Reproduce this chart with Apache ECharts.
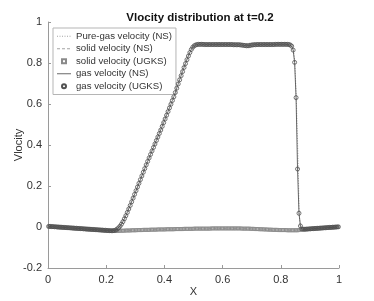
<!DOCTYPE html>
<html>
<head>
<meta charset="utf-8">
<script src="https://cdn.jsdelivr.net/npm/echarts@6/dist/echarts.min.js"></script>
<style>html,body{margin:0;padding:0;background:#fff;}#c{width:374px;height:301px;}</style>
</head>
<body>
<div id="c"></div>
<script>
const titleText = 'Vlocity distribution at t=0.2';
const seriesNames = ['Pure-gas velocity (NS)', 'solid velocity (NS)', 'solid velocity (UGKS)', 'gas velocity (NS)', 'gas velocity (UGKS)'];
const xTicks = [0, 0.2, 0.4, 0.6, 0.8, 1];
const yTicks = [-0.2, 0, 0.2, 0.4, 0.6, 0.8, 1];

// cell centres
const cellX = [
0.0025,0.0075,0.0125,0.0175,0.0225,0.0275,0.0325,0.0375,0.0425,0.0475,
0.0525,0.0575,0.0625,0.0675,0.0725,0.0775,0.0825,0.0875,0.0925,0.0975,
0.1025,0.1075,0.1125,0.1175,0.1225,0.1275,0.1325,0.1375,0.1425,0.1475,
0.1525,0.1575,0.1625,0.1675,0.1725,0.1775,0.1825,0.1875,0.1925,0.1975,
0.2025,0.2075,0.2125,0.2175,0.2225,0.2275,0.2325,0.2375,0.2425,0.2475,
0.2525,0.2575,0.2625,0.2675,0.2725,0.2775,0.2825,0.2875,0.2925,0.2975,
0.3025,0.3075,0.3125,0.3175,0.3225,0.3275,0.3325,0.3375,0.3425,0.3475,
0.3525,0.3575,0.3625,0.3675,0.3725,0.3775,0.3825,0.3875,0.3925,0.3975,
0.4025,0.4075,0.4125,0.4175,0.4225,0.4275,0.4325,0.4375,0.4425,0.4475,
0.4525,0.4575,0.4625,0.4675,0.4725,0.4775,0.4825,0.4875,0.4925,0.4975,
0.5025,0.5075,0.5125,0.5175,0.5225,0.5275,0.5325,0.5375,0.5425,0.5475,
0.5525,0.5575,0.5625,0.5675,0.5725,0.5775,0.5825,0.5875,0.5925,0.5975,
0.6025,0.6075,0.6125,0.6175,0.6225,0.6275,0.6325,0.6375,0.6425,0.6475,
0.6525,0.6575,0.6625,0.6675,0.6725,0.6775,0.6825,0.6875,0.6925,0.6975,
0.7025,0.7075,0.7125,0.7175,0.7225,0.7275,0.7325,0.7375,0.7425,0.7475,
0.7525,0.7575,0.7625,0.7675,0.7725,0.7775,0.7825,0.7875,0.7925,0.7975,
0.8025,0.8075,0.8125,0.8175,0.8225,0.8275,0.8325,0.8375,0.8425,0.8475,
0.8525,0.8575,0.8625,0.8675,0.8725,0.8775,0.8825,0.8875,0.8925,0.8975,
0.9025,0.9075,0.9125,0.9175,0.9225,0.9275,0.9325,0.9375,0.9425,0.9475,
0.9525,0.9575,0.9625,0.9675,0.9725,0.9775,0.9825,0.9875,0.9925,0.9975
];

const gasVel = [
0.003,0.003,0.002,0.002,0.001,0.001,0.000,0.000,-0.001,-0.001,
-0.002,-0.002,-0.003,-0.003,-0.004,-0.004,-0.005,-0.005,-0.006,-0.006,
-0.007,-0.007,-0.008,-0.008,-0.009,-0.009,-0.010,-0.010,-0.011,-0.011,
-0.012,-0.012,-0.013,-0.013,-0.014,-0.014,-0.015,-0.015,-0.016,-0.016,
-0.017,-0.017,-0.018,-0.018,-0.018,-0.017,-0.015,-0.010,-0.004,0.004,
0.014,0.026,0.040,0.055,0.071,0.088,0.105,0.123,0.141,0.159,
0.177,0.195,0.213,0.231,0.249,0.267,0.285,0.303,0.320,0.337,
0.354,0.371,0.388,0.405,0.422,0.439,0.456,0.473,0.491,0.509,
0.527,0.545,0.563,0.581,0.599,0.617,0.635,0.656,0.677,0.698,
0.718,0.738,0.758,0.778,0.797,0.816,0.834,0.851,0.866,0.877,
0.884,0.888,0.890,0.891,0.891,0.891,0.891,0.890,0.890,0.890,
0.890,0.890,0.890,0.890,0.890,0.890,0.890,0.890,0.890,0.890,
0.890,0.890,0.890,0.890,0.890,0.890,0.890,0.889,0.889,0.889,
0.889,0.889,0.888,0.887,0.886,0.885,0.884,0.884,0.885,0.887,
0.888,0.889,0.889,0.890,0.890,0.890,0.890,0.890,0.890,0.890,
0.890,0.890,0.890,0.890,0.890,0.890,0.891,0.891,0.891,0.891,
0.891,0.891,0.891,0.891,0.891,0.890,0.888,0.882,0.863,0.803,
0.631,0.283,0.067,0.005,-0.010,-0.011,-0.011,-0.010,-0.010,-0.009,
-0.009,-0.008,-0.008,-0.007,-0.007,-0.006,-0.006,-0.005,-0.005,-0.004,
-0.004,-0.003,-0.003,-0.002,-0.002,-0.001,-0.001,0.000,0.000,0.001
];

const solidVel = [
0.002,0.002,0.001,0.001,0.000,0.000,-0.001,-0.001,-0.002,-0.002,
-0.003,-0.003,-0.004,-0.004,-0.005,-0.005,-0.006,-0.006,-0.007,-0.007,
-0.008,-0.008,-0.009,-0.009,-0.010,-0.010,-0.011,-0.011,-0.012,-0.012,
-0.013,-0.013,-0.014,-0.014,-0.015,-0.015,-0.016,-0.016,-0.017,-0.017,
-0.018,-0.018,-0.019,-0.019,-0.019,-0.019,-0.019,-0.019,-0.019,-0.018,
-0.018,-0.018,-0.018,-0.017,-0.017,-0.017,-0.017,-0.016,-0.016,-0.016,
-0.016,-0.015,-0.015,-0.015,-0.015,-0.014,-0.014,-0.014,-0.014,-0.014,
-0.013,-0.013,-0.013,-0.013,-0.013,-0.012,-0.012,-0.012,-0.012,-0.012,
-0.012,-0.011,-0.011,-0.011,-0.011,-0.011,-0.011,-0.010,-0.010,-0.010,
-0.010,-0.010,-0.010,-0.009,-0.009,-0.009,-0.009,-0.009,-0.009,-0.009,
-0.008,-0.008,-0.008,-0.008,-0.008,-0.008,-0.008,-0.008,-0.008,-0.008,
-0.008,-0.008,-0.007,-0.007,-0.007,-0.007,-0.007,-0.007,-0.007,-0.007,
-0.007,-0.007,-0.007,-0.007,-0.007,-0.007,-0.007,-0.007,-0.007,-0.007,
-0.007,-0.007,-0.007,-0.008,-0.008,-0.008,-0.008,-0.008,-0.008,-0.009,
-0.009,-0.009,-0.010,-0.010,-0.010,-0.011,-0.011,-0.011,-0.012,-0.012,
-0.012,-0.013,-0.013,-0.013,-0.014,-0.014,-0.014,-0.014,-0.015,-0.015,
-0.015,-0.015,-0.015,-0.015,-0.016,-0.016,-0.016,-0.016,-0.016,-0.016,
-0.016,-0.016,-0.015,-0.013,-0.011,-0.011,-0.011,-0.011,-0.010,-0.010,
-0.009,-0.009,-0.008,-0.008,-0.007,-0.007,-0.006,-0.006,-0.005,-0.005,
-0.004,-0.004,-0.003,-0.003,-0.002,-0.002,-0.001,-0.001,0.000,0.000
];

const pureX = [0,0.05,0.1,0.15,0.2,0.225,0.235,0.25,0.3,0.35,0.4,0.45,0.475,0.49,0.5,0.52,0.6,0.68,0.7,0.8,0.835,0.842,0.848,0.853,0.86,0.863,0.867,0.875,0.9,0.95,1];
const pureVel = [0.003,-0.002,-0.007,-0.012,-0.017,-0.018,-0.012,0.012,0.168,0.348,0.535,0.726,0.818,0.868,0.888,0.897,0.898,0.895,0.897,0.898,0.897,0.875,0.81,0.64,0.29,0.07,0.0,-0.011,-0.009,-0.004,0.001];

const pair = (xs, ys) => xs.map((x, i) => [x, ys[i]]);
const FONT = '"Liberation Sans", Arial, Helvetica, sans-serif';

const chart = echarts.init(document.getElementById('c'), null, {renderer: 'canvas'});
const axisCommon = {
  axisLine: {show: true, onZero: false, lineStyle: {color: '#9a9a9a', width: 1}},
  axisTick: {show: true, inside: true, length: 3, lineStyle: {color: '#9a9a9a'}},
  splitLine: {show: false},
  nameMoveOverlap: false,
  nameTextStyle: {color: '#333', fontSize: 11, fontFamily: FONT}
};
const labelStyle = {color: '#333', fontSize: 11, fontFamily: FONT, margin: 6};
chart.setOption({
  animation: false,
  backgroundColor: '#fff',
  title: {
    text: titleText, left: 195, top: 7, textAlign: 'center',
    textStyle: {fontSize: 11.5, fontWeight: 'bold', color: '#111', fontFamily: FONT}
  },
  grid: {left: 48, right: 35, top: 22, bottom: 33, containLabel: false, outerBoundsMode: 'none'},
  legend: {
    orient: 'vertical', left: 53, top: 28,
    padding: [2, 4, 2, 3],
    itemWidth: 14, itemHeight: 5, itemGap: 0,
    backgroundColor: '#fff', borderColor: '#b5b5b5', borderWidth: 1,
    textStyle: {fontSize: 9.6, lineHeight: 12.5, color: '#333', fontFamily: FONT},
    selectedMode: false,
    data: [
      {name: seriesNames[0], itemStyle: {opacity: 0}, lineStyle: {width: 0.8}},
      {name: seriesNames[1], itemStyle: {opacity: 0}, lineStyle: {width: 0.8}},
      {name: seriesNames[2]},
      {name: seriesNames[3], itemStyle: {opacity: 0}, lineStyle: {width: 0.8}},
      {name: seriesNames[4]}
    ]
  },
  xAxis: Object.assign({
    type: 'value', min: 0, max: 1, interval: 0.2,
    name: 'X', nameLocation: 'middle', nameGap: 18,
    axisLabel: labelStyle
  }, axisCommon),
  yAxis: Object.assign({
    type: 'value', min: -0.2, max: 1, interval: 0.2,
    name: 'Vlocity', nameLocation: 'middle', nameGap: 24, nameRotate: 90,
    axisLabel: labelStyle
  }, axisCommon),
  series: [
    {
      name: seriesNames[0], type: 'line', data: pair(pureX, pureVel),
      symbol: 'none', lineStyle: {color: '#8c8c8c', width: 0.8, type: [1, 1.5]}, z: 1
    },
    {
      name: seriesNames[1], type: 'line', data: pair(cellX, solidVel),
      symbol: 'none', lineStyle: {color: '#8c8c8c', width: 0.8, type: [3, 2]}, z: 2
    },
    {
      name: seriesNames[2], type: 'line', data: pair(cellX, solidVel),
      symbol: 'rect', symbolSize: 3, showSymbol: true, showAllSymbol: true,
      lineStyle: {opacity: 0, width: 0.5},
      itemStyle: {color: 'rgba(0,0,0,0)', borderColor: '#8a8a8a', borderWidth: 0.8}, z: 3
    },
    {
      name: seriesNames[3], type: 'line', data: pair(cellX, gasVel),
      symbol: 'none', lineStyle: {color: '#444', width: 0.8}, z: 4
    },
    {
      name: seriesNames[4], type: 'line', data: pair(cellX, gasVel),
      symbol: 'circle', symbolSize: 4, showSymbol: true, showAllSymbol: true,
      lineStyle: {opacity: 0, width: 0.5},
      itemStyle: {color: 'rgba(0,0,0,0)', borderColor: '#505050', borderWidth: 0.8}, z: 5
    }
  ]
});
</script>
</body>
</html>
